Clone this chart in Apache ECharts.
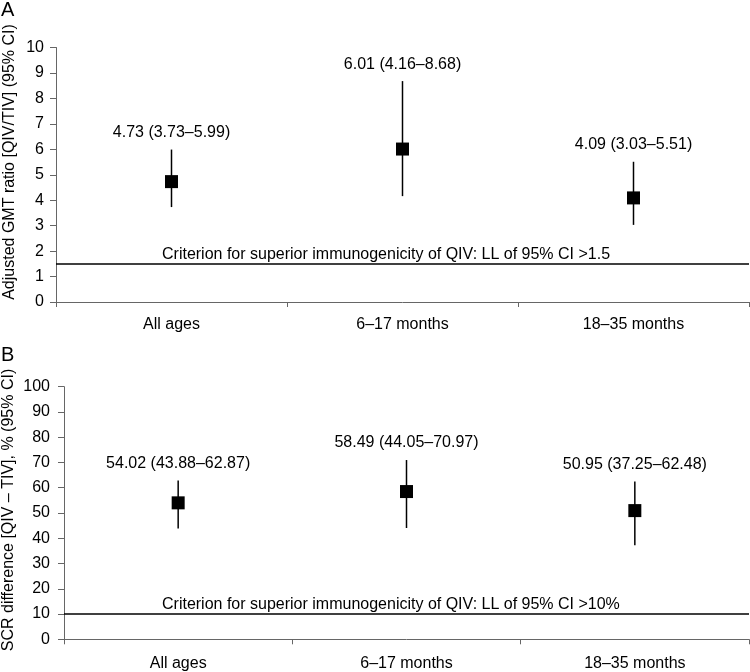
<!DOCTYPE html>
<html>
<head>
<meta charset="utf-8">
<script src="https://cdn.jsdelivr.net/npm/echarts@6/dist/echarts.min.js"></script>
<style>
html,body{margin:0;padding:0;background:#fff;}
#chart{width:750px;height:672px;}
</style>
</head>
<body>
<div id="chart"></div>
<script>
// ---- data ----
const categories = ['All ages', '6\u201317 months', '18\u201335 months'];

// Panel A: adjusted GMT ratio (QIV/TIV)
const gmtEstimate = [4.73, 6.01, 4.09];
const gmtLower = [3.73, 4.16, 3.03];
const gmtUpper = [5.99, 8.68, 5.51];
const gmtCriterion = 1.5;
const gmtTicks = { min: 0, max: 10, interval: 1 };

// Panel B: SCR difference (QIV - TIV), %
const scrEstimate = [54.02, 58.49, 50.95];
const scrLower = [43.88, 44.05, 37.25];
const scrUpper = [62.87, 70.97, 62.48];
const scrCriterion = 10;
const scrTicks = { min: 0, max: 100, interval: 10 };

const titleA = 'Adjusted GMT ratio [QIV/TIV] (95% CI)';
const titleB = 'SCR difference [QIV \u2013 TIV], % (95% CI)';
const critA = 'Criterion for superior immunogenicity of QIV: LL of 95% CI >1.5';
const critB = 'Criterion for superior immunogenicity of QIV: LL of 95% CI >10%';

// ---- helpers ----
const FONT = '"Liberation Sans", Arial, Helvetica, sans-serif';
const fmt = v => v.toFixed(2);
function makeLabels(est, lo, hi) {
  return est.map((e, i) => fmt(e) + ' (' + fmt(lo[i]) + '\u2013' + fmt(hi[i]) + ')');
}
const labelsA = makeLabels(gmtEstimate, gmtLower, gmtUpper);
const labelsB = makeLabels(scrEstimate, scrLower, scrUpper);

function whiskerSeries(idx, lo, hi, labels) {
  return {
    type: 'custom',
    xAxisIndex: idx, yAxisIndex: idx,
    data: lo.map((l, i) => [i, l, hi[i]]),
    encode: { x: 0, y: [1, 2] },
    z: 2,
    silent: true,
    renderItem: function (params, api) {
      const x = api.value(0);
      const a = api.coord([x, api.value(1)]);
      const b = api.coord([x, api.value(2)]);
      return {
        type: 'group',
        children: [
          { type: 'line', shape: { x1: a[0], y1: a[1], x2: b[0], y2: b[1] },
            style: { stroke: '#000', lineWidth: 1.5 } },
          { type: 'text', x: b[0], y: b[1] - 9,
            style: { text: labels[params.dataIndex], fill: '#000', fontSize: 16,
                     fontFamily: FONT, align: 'center', verticalAlign: 'bottom' } }
        ]
      };
    }
  };
}

function pointSeries(idx, est, critValue, critText, startDist) {
  return {
    type: 'scatter',
    xAxisIndex: idx, yAxisIndex: idx,
    data: est.map((e, i) => [i, e]),
    symbol: 'rect',
    symbolSize: 13,
    itemStyle: { color: '#000', opacity: 1 },
    z: 3,
    silent: true,
    markLine: {
      silent: true,
      symbol: ['none', 'none'],
      lineStyle: { color: '#000', width: 1.5, type: 'solid', opacity: 1 },
      label: { show: true, position: 'insideStartTop', distance: [startDist, 1], formatter: critText,
               color: '#000', fontSize: 16, fontFamily: FONT },
      data: [{ yAxis: critValue }]
    }
  };
}

function xAxisCfg(idx, margin) {
  return {
    type: 'category', gridIndex: idx, data: categories,
    boundaryGap: true,
    axisLine: { show: true, lineStyle: { color: '#666', width: 1 } },
    axisTick: { show: true, length: 5, lineStyle: { color: '#666' } },
    axisLabel: { color: '#000', fontSize: 16, fontFamily: FONT, margin: margin },
    splitLine: { show: false }
  };
}
function yAxisCfg(idx, t, margin) {
  return {
    type: 'value', gridIndex: idx, min: t.min, max: t.max, interval: t.interval,
    axisLine: { show: true, lineStyle: { color: '#666', width: 1 } },
    axisTick: { show: true, length: 6, lineStyle: { color: '#666' } },
    axisLabel: { color: '#000', fontSize: 16, fontFamily: FONT, margin: margin },
    splitLine: { show: false }
  };
}

const chart = echarts.init(document.getElementById('chart'), null, { renderer: 'canvas' });
chart.setOption({
  animation: false,
  backgroundColor: '#fff',
  textStyle: { fontFamily: FONT },
  grid: [
    { left: 56, right: 1, top: 47.5, height: 254.5 },
    { left: 64, right: 1, top: 386.7, height: 252.6 }
  ],
  xAxis: [xAxisCfg(0, 15), xAxisCfg(1, 16)],
  yAxis: [yAxisCfg(0, gmtTicks, 12), yAxisCfg(1, scrTicks, 14)],
  series: [
    whiskerSeries(0, gmtLower, gmtUpper, labelsA),
    pointSeries(0, gmtEstimate, gmtCriterion, critA, 106),
    whiskerSeries(1, scrLower, scrUpper, labelsB),
    pointSeries(1, scrEstimate, scrCriterion, critB, 98)
  ],
  graphic: [
    { type: 'text', x: 1, y: 0, style: { text: 'A', fill: '#000', fontSize: 20, fontFamily: FONT } },
    { type: 'text', x: 1, y: 345, style: { text: 'B', fill: '#000', fontSize: 20, fontFamily: FONT } },
    { type: 'text', x: 10, y: 162, rotation: Math.PI / 2,
      style: { text: titleA, fill: '#000', fontSize: 16, fontFamily: FONT, align: 'center', verticalAlign: 'middle' } },
    { type: 'text', x: 9, y: 510, rotation: Math.PI / 2,
      style: { text: titleB, fill: '#000', fontSize: 16, fontFamily: FONT, align: 'center', verticalAlign: 'middle' } }
  ]
});
</script>
</body>
</html>
